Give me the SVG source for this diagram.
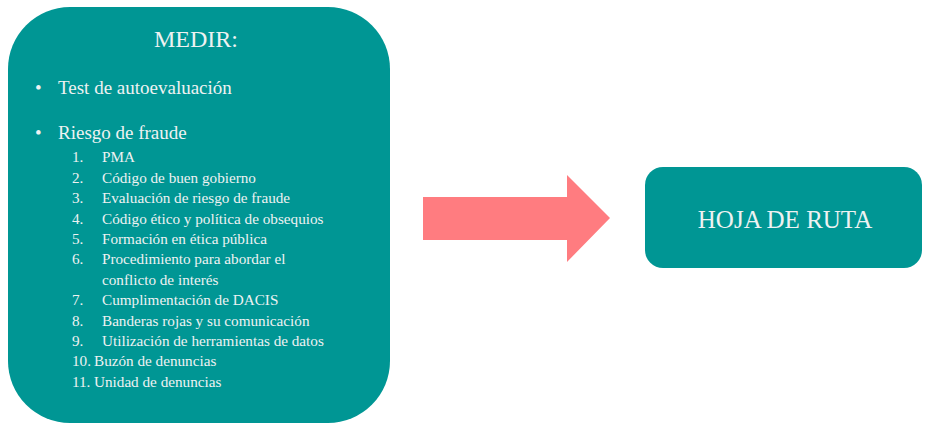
<svg xmlns="http://www.w3.org/2000/svg" width="926" height="427" viewBox="0 0 926 427">
<style>
.box{fill:#009694}
.t{font-family:"Liberation Serif","Times New Roman",serif;fill:#eef2f2}
.h{font-size:24px}
.hr{font-size:25px}
.b{font-size:19px}
.l{font-size:15.2px}
</style>
<rect width="926" height="427" fill="#ffffff"/>
<g id="medir">
<rect class="box" x="8" y="7" width="382" height="416" rx="62" ry="62"/>
<text class="t h" x="196" y="47" text-anchor="middle">MEDIR:</text>
<g class="t b">
<text x="35" y="94">•</text><text x="58" y="94">Test de autoevaluación</text>
<text x="35" y="139">•</text><text x="58" y="139">Riesgo de fraude</text>
</g>
<g class="t l">
<text x="72" y="162">1.</text><text x="102" y="162">PMA</text>
<text x="72" y="183">2.</text><text x="102" y="183">Código de buen gobierno</text>
<text x="72" y="203">3.</text><text x="102" y="203">Evaluación de riesgo de fraude</text>
<text x="72" y="224">4.</text><text x="102" y="224">Código ético y política de obsequios</text>
<text x="72" y="244">5.</text><text x="102" y="244">Formación en ética pública</text>
<text x="72" y="264">6.</text><text x="102" y="264">Procedimiento para abordar el</text>
<text x="102" y="285">conflicto de interés</text>
<text x="72" y="305">7.</text><text x="102" y="305">Cumplimentación  de DACIS</text>
<text x="72" y="326">8.</text><text x="102" y="326">Banderas  rojas y su comunicación</text>
<text x="72" y="346">9.</text><text x="102" y="346">Utilización de herramientas  de datos</text>
<text x="72" y="366">10.</text><text x="94" y="366">Buzón de denuncias</text>
<text x="72" y="387">11.</text><text x="94" y="387">Unidad de denuncias</text>
</g>
</g>
<g id="connectors">
<polygon points="423,197 567,197 567,175 610,218 567,262 567,240 423,240" fill="#ff7c80"/>
</g>
<g id="hoja">
<rect class="box" x="645" y="167" width="277" height="101" rx="18" ry="18"/>
<text class="t hr" x="785" y="228" text-anchor="middle">HOJA DE RUTA</text>
</g>
</svg>
